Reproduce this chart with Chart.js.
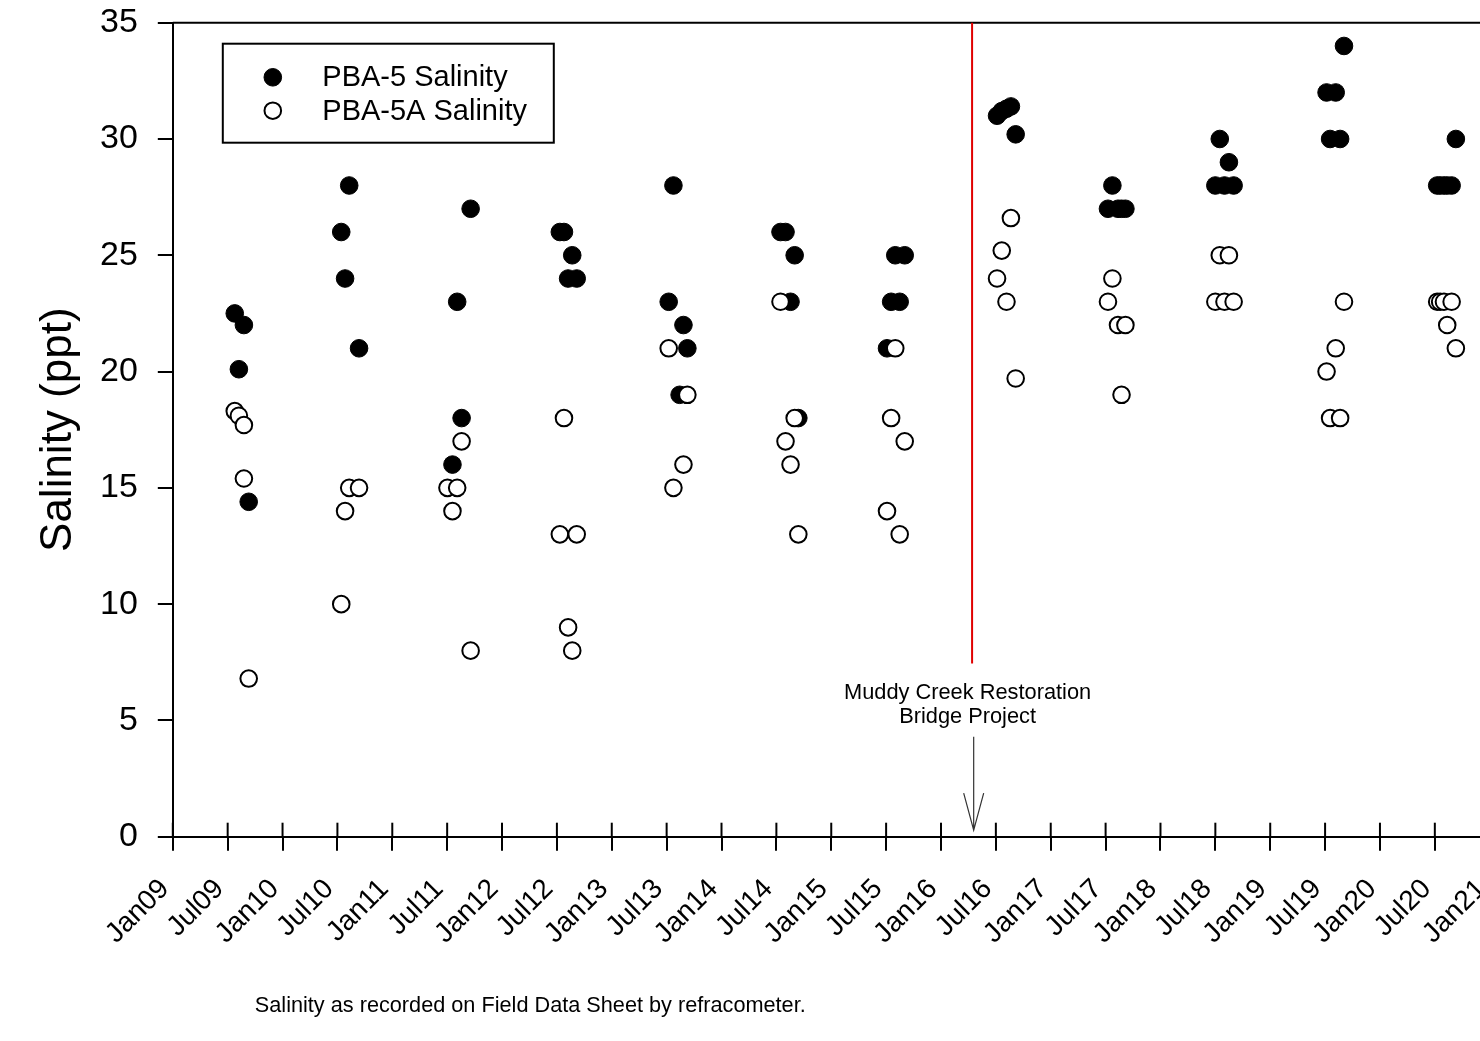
<!DOCTYPE html>
<html>
<head>
<meta charset="utf-8">
<title>Salinity PBA-5 / PBA-5A</title>
<script src="https://cdn.jsdelivr.net/npm/chart.js@4.4.0/dist/chart.umd.min.js"></script>
<style>
    html, body { margin: 0; padding: 0; background: #fff; overflow: hidden; }
    #wrap { position: relative; width: 1480px; height: 1041px; overflow: hidden; }
    #myChart { position: absolute; left: 0; top: 0; }
</style>
</head>
<body>
<div id="wrap"><canvas id="myChart" width="1500" height="1041"></canvas></div>
<script>
const tickLabels = ['Jan09', 'Jul09', 'Jan10', 'Jul10', 'Jan11', 'Jul11', 'Jan12', 'Jul12', 'Jan13',
    'Jul13', 'Jan14', 'Jul14', 'Jan15', 'Jul15', 'Jan16', 'Jul16', 'Jan17', 'Jul17', 'Jan18',
    'Jul18', 'Jan19', 'Jul19', 'Jan20', 'Jul20', 'Jan21'];

// PBA-5 (filled)
const pba5Dates = [
    '2009-07-25', '2009-08-08', '2009-08-25', '2009-09-10',
    '2010-07-14', '2010-07-27', '2010-08-10', '2010-09-12',
    '2011-07-19', '2011-08-04', '2011-08-19', '2011-09-18',
    '2012-07-11', '2012-07-25', '2012-08-08', '2012-08-22', '2012-09-06',
    '2013-07-08', '2013-07-24', '2013-08-14', '2013-08-27', '2013-09-09',
    '2014-07-15', '2014-08-01', '2014-08-18', '2014-09-01', '2014-09-13',
    '2015-07-04', '2015-07-18', '2015-08-01', '2015-08-16', '2015-09-02',
    '2016-07-05', '2016-07-21', '2016-08-06', '2016-08-21', '2016-09-06',
    '2017-07-09', '2017-07-24', '2017-08-12', '2017-08-24', '2017-09-06',
    '2018-07-01', '2018-07-16', '2018-08-01', '2018-08-16', '2018-09-01',
    '2019-07-06', '2019-07-18', '2019-08-06', '2019-08-21', '2019-09-03',
    '2020-07-09', '2020-07-19', '2020-08-01', '2020-08-12', '2020-08-27', '2020-09-10'
];
const pba5Values = [
    22.5, 20.1, 22, 14.4,
    26, 24, 28, 21,
    16, 23, 18, 27,
    26, 26, 24, 25, 24,
    23, 28, 19, 22, 21,
    26, 26, 23, 25, 18,
    21, 23, 25, 23, 25,
    31.0, 31.2, 31.3, 31.4, 30.2,
    27, 28, 27, 27, 27,
    28, 30, 28, 29, 28,
    32, 30, 32, 30, 34,
    28, 28, 28, 28, 28, 30
];

// PBA-5A (open)
const pba5aDates = [
    '2009-07-25', '2009-08-08', '2009-08-25', '2009-08-25', '2009-09-10',
    '2010-07-14', '2010-07-27', '2010-08-10', '2010-09-12',
    '2011-07-02', '2011-07-19', '2011-08-04', '2011-08-19', '2011-09-18',
    '2012-07-11', '2012-07-25', '2012-08-08', '2012-08-22', '2012-09-06',
    '2013-07-08', '2013-07-24', '2013-08-27', '2013-09-09',
    '2014-07-15', '2014-08-01', '2014-08-18', '2014-09-01', '2014-09-13',
    '2015-07-04', '2015-07-18', '2015-08-01', '2015-08-16', '2015-09-02',
    '2016-07-05', '2016-07-21', '2016-08-06', '2016-08-21', '2016-09-06',
    '2017-07-09', '2017-07-24', '2017-08-12', '2017-08-24', '2017-09-06',
    '2018-07-01', '2018-07-16', '2018-08-01', '2018-08-16', '2018-09-01',
    '2019-07-06', '2019-07-18', '2019-08-06', '2019-08-21', '2019-09-03',
    '2020-07-09', '2020-07-19', '2020-08-01', '2020-08-12', '2020-08-27', '2020-09-10'
];
const pba5aValues = [
    18.3, 18.1, 17.7, 15.4, 6.8,
    10, 14, 15, 15,
    15, 14, 15, 17, 8,
    13, 18, 9, 8, 13,
    21, 15, 16, 19,
    23, 17, 16, 18, 13,
    14, 18, 21, 13, 17,
    24, 25.2, 23, 26.6, 19.7,
    23, 24, 22, 19, 22,
    23, 25, 23, 25, 23,
    20, 18, 21, 18, 23,
    23, 23, 23, 22, 23, 21
];

const seriesNames = ['PBA-5 Salinity', 'PBA-5A Salinity'];
const bridgeDate = '2016-04-13';
const bridgeLabel = ['Muddy Creek Restoration', 'Bridge Project'];
const footNote = 'Salinity as recorded on Field Data Sheet by refracometer.';

const FONT = "'Liberation Sans', Arial, sans-serif";

function monthsSince2009(dateStr) {
    const [y, m, d] = dateStr.split('-').map(Number);
    const daysInMonth = new Date(y, m, 0).getDate();
    return (y - 2009) * 12 + (m - 1) + (d - 1) / daysInMonth;
}

function toPoints(dates, values) {
    return dates.map((d, i) => ({ x: monthsSince2009(d), y: values[i] }));
}

const extras = {
    id: 'extras',
    beforeDatasetsDraw(chart) {
        const ctx = chart.ctx;
        const area = chart.chartArea;
        const xs = chart.scales.x;
        const ys = chart.scales.y;
        ctx.save();

        // top frame line
        ctx.strokeStyle = '#000';
        ctx.lineWidth = 2;
        ctx.beginPath();
        ctx.moveTo(area.left, area.top);
        ctx.lineTo(area.right + 10, area.top);
        ctx.stroke();

        // inner half of x ticks
        xs.ticks.forEach(t => {
            const px = xs.getPixelForValue(t.value);
            ctx.beginPath();
            ctx.moveTo(px, area.bottom);
            ctx.lineTo(px, area.bottom - 14);
            ctx.stroke();
        });

        // bridge project marker
        const bx = xs.getPixelForValue(monthsSince2009(bridgeDate));
        ctx.strokeStyle = '#e00000';
        ctx.lineWidth = 2;
        ctx.beginPath();
        ctx.moveTo(bx, area.top);
        ctx.lineTo(bx, ys.getPixelForValue(7.45));
        ctx.stroke();

        ctx.fillStyle = '#000';
        ctx.font = '21.8px ' + FONT;
        ctx.textAlign = 'center';
        ctx.textBaseline = 'middle';
        ctx.fillText(bridgeLabel[0], bx - 4.5, ys.getPixelForValue(6.18));
        ctx.fillText(bridgeLabel[1], bx - 4.5, ys.getPixelForValue(5.15));

        const ax = bx + 1.6;
        const tipY = ys.getPixelForValue(0.28);
        ctx.strokeStyle = '#333';
        ctx.lineWidth = 1.2;
        ctx.beginPath();
        ctx.moveTo(ax, ys.getPixelForValue(4.3));
        ctx.lineTo(ax, tipY);
        ctx.moveTo(ax - 10, tipY - 37);
        ctx.lineTo(ax, tipY);
        ctx.lineTo(ax + 10, tipY - 37);
        ctx.stroke();
        ctx.restore();
    },
    afterDraw(chart) {
        const ctx = chart.ctx;
        const area = chart.chartArea;
        const sets = chart.data.datasets;
        ctx.save();

        // legend box
        const boxL = area.left + 50;
        const boxT = area.top + 21;
        ctx.fillStyle = '#fff';
        ctx.fillRect(boxL, boxT, 331, 99);
        ctx.strokeStyle = '#000';
        ctx.lineWidth = 2;
        ctx.strokeRect(boxL, boxT, 331, 99);

        ctx.font = '29px ' + FONT;
        ctx.textAlign = 'left';
        ctx.textBaseline = 'middle';
        sets.forEach((ds, i) => {
            const my = boxT + 33.6 + i * 33.4;
            ctx.beginPath();
            ctx.arc(boxL + 50, my, ds.pointRadius, 0, Math.PI * 2);
            ctx.fillStyle = ds.backgroundColor;
            ctx.fill();
            ctx.lineWidth = ds.borderWidth;
            ctx.strokeStyle = ds.borderColor;
            ctx.stroke();
            ctx.fillStyle = '#000';
            ctx.fillText(ds.label, boxL + 99.5, my + 1);
        });

        // footnote
        ctx.font = '21.7px ' + FONT;
        ctx.fillText(footNote, 254.8, 1006);
        ctx.restore();
    }
};

const ctx = document.getElementById('myChart');
const myChart = new Chart(ctx, {
    type: 'scatter',
    data: {
        datasets: [{
            label: seriesNames[0],
            data: toPoints(pba5Dates, pba5Values),
            pointRadius: 8.8,
            borderWidth: 1,
            backgroundColor: '#000',
            borderColor: '#000',
            order: 2
        }, {
            label: seriesNames[1],
            data: toPoints(pba5aDates, pba5aValues),
            pointRadius: 8.3,
            borderWidth: 2,
            backgroundColor: '#fff',
            borderColor: '#000',
            order: 1
        }]
    },
    options: {
        responsive: false,
        animation: false,
        devicePixelRatio: 1,
        layout: {
            padding: { top: 22.7, right: 7.4, left: 0, bottom: 0 }
        },
        plugins: {
            legend: { display: false },
            tooltip: { enabled: false }
        },
        scales: {
            x: {
                type: 'linear',
                min: 0,
                max: 144,
                border: { color: '#000', width: 2 },
                grid: { drawOnChartArea: false, tickLength: 14, color: '#000', lineWidth: 2 },
                ticks: {
                    stepSize: 6,
                    autoSkip: false,
                    minRotation: 45,
                    maxRotation: 45,
                    padding: 22,
                    labelOffset: -8,
                    color: '#000',
                    font: { family: FONT, size: 28 },
                    callback: (v) => tickLabels[Math.round(v / 6)]
                },
                afterFit: (scale) => {
                    scale.height = 1041 - 836.7;
                    scale.paddingLeft = 0;
                    scale.paddingRight = 0;
                }
            },
            y: {
                min: 0,
                max: 35,
                border: { color: '#000', width: 2 },
                grid: { drawOnChartArea: false, tickLength: 15, color: '#000', lineWidth: 2 },
                ticks: {
                    stepSize: 5,
                    padding: 20,
                    color: '#000',
                    font: { family: FONT, size: 34 }
                },
                title: {
                    display: true,
                    text: 'Salinity (ppt)',
                    color: '#000',
                    font: { family: FONT, size: 44 },
                    padding: { top: 32, bottom: 0 }
                },
                afterFit: (scale) => {
                    scale.width = 172.8;
                    scale.paddingTop = 0;
                    scale.paddingBottom = 0;
                }
            }
        }
    },
    plugins: [extras]
});
</script>
</body>
</html>
